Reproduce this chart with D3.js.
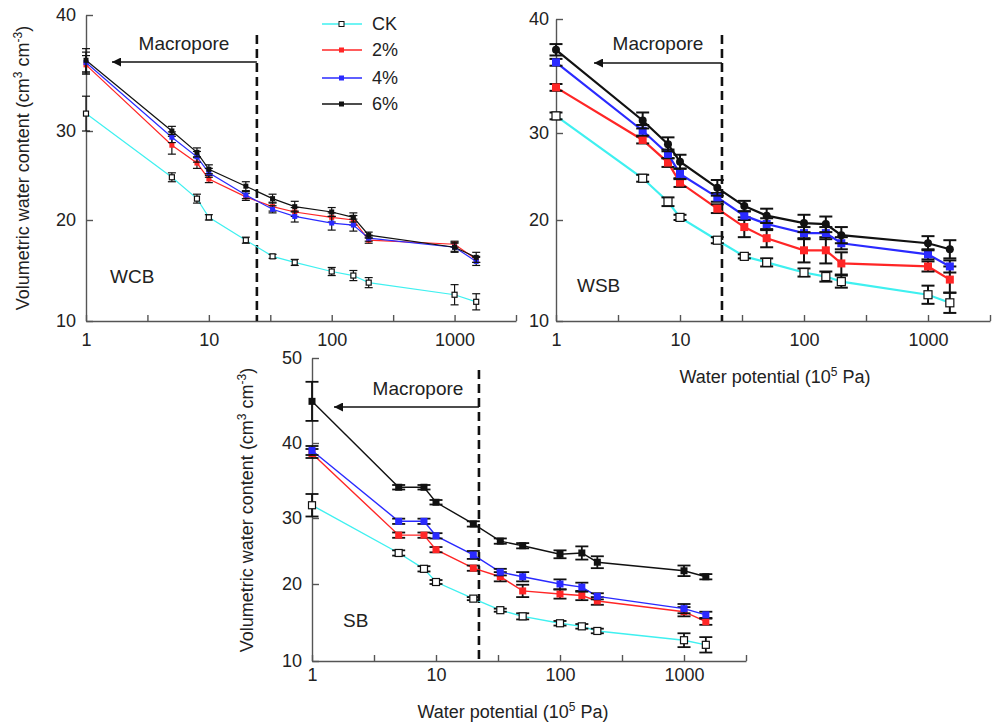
<!DOCTYPE html>
<html>
<head>
<meta charset="utf-8">
<script src="https://cdn.jsdelivr.net/npm/d3@7"></script>
<style>
  body { margin: 0; background: #fff; }
  svg { font-family: "Liberation Sans", Arial, sans-serif; }
  .axis path, .axis line { stroke: #555; stroke-width: 1.4; }
  .axis text { font-size: 18px; fill: #222; font-family: "Liberation Sans", Arial, sans-serif; }
</style>
</head>
<body>
<div class="main"></div>
<script>

// water potential (10^5 Pa) of each measurement
const potentials = [1, 5, 8, 10, 20, 33, 50, 100, 150, 200, 1000, 1500]
const treatments = ["CK", "2%", "4%", "6%"]
const colors = ["#3ff0f0", "#ff2626", "#2a2aff", "#111111"]

const xTickValues = [1, 3.1623, 10, 31.623, 100, 316.23, 1000, 3162.3]
const xTickLabels = [1, 10, 100, 1000]
const yTicksTop = [10, 20, 30, 40]
const yTicksBottom = [10, 20, 30, 40, 50]

// WCB
const wcbCK = [31.5, 24.8, 22.4, 20.3, 18.0, 16.4, 15.8, 14.9, 14.5, 13.8, 12.6, 11.9]
const wcb2 = [35.7, 28.4, 26.4, 24.6, 22.6, 21.5, 20.9, 20.3, 20.0, 18.0, 17.6, 16.1]
const wcb4 = [35.9, 29.3, 27.1, 25.3, 22.8, 21.2, 20.4, 19.7, 19.5, 18.2, 17.3, 15.9]
const wcb6 = [36.1, 30.0, 27.6, 25.7, 23.8, 22.4, 21.5, 20.9, 20.3, 18.5, 17.3, 16.3]
const wcbErrCK = [1.5, 0.5, 0.5, 0.3, 0.3, 0.2, 0.3, 0.4, 0.5, 0.5, 1.0, 0.8]
const wcbErr2 = [0.8, 1.0, 0.6, 0.4, 0.4, 0.5, 0.5, 0.5, 0.5, 0.3, 0.3, 0.3]
const wcbErr4 = [0.9, 0.6, 0.6, 0.5, 0.4, 0.4, 0.6, 0.7, 0.6, 0.3, 0.4, 0.4]
const wcbErr6 = [1.0, 0.4, 0.5, 0.5, 0.5, 0.5, 0.6, 0.5, 0.5, 0.3, 0.5, 0.5]
const wcbBoundary = 24.6

// WSB
const wsbCK = [31.5, 24.8, 22.1, 20.3, 18.0, 16.4, 15.8, 14.8, 14.4, 13.9, 12.6, 11.8]
const wsb2 = [34.0, 29.2, 26.6, 24.3, 21.3, 19.3, 18.2, 17.0, 17.0, 15.7, 15.4, 14.1]
const wsb4 = [36.2, 30.2, 27.6, 25.3, 22.6, 20.5, 19.6, 18.7, 18.7, 17.7, 16.6, 15.4]
const wsb6 = [37.3, 31.1, 28.7, 26.7, 23.7, 21.6, 20.5, 19.7, 19.6, 18.5, 17.7, 17.1]
const wsbErrCK = [0.3, 0.4, 0.5, 0.3, 0.3, 0.2, 0.4, 0.4, 0.5, 0.6, 0.9, 1.0]
const wsbErr2 = [0.3, 0.4, 0.5, 0.5, 0.5, 1.0, 0.9, 1.2, 1.3, 1.1, 0.5, 1.3]
const wsbErr4 = [0.3, 0.5, 0.5, 0.6, 0.5, 0.5, 0.6, 0.6, 0.6, 0.6, 0.5, 0.6]
const wsbErr6 = [0.5, 0.7, 0.8, 0.8, 0.9, 0.6, 0.8, 0.9, 0.8, 0.8, 0.7, 0.9]
const wsbBoundary = 21.8

// SB
const sbCK = [31.7, 24.7, 22.3, 20.3, 18.1, 16.6, 15.8, 14.9, 14.5, 13.9, 12.7, 12.1]
const sb2 = [38.6, 27.4, 27.4, 25.2, 22.4, 21.1, 19.1, 18.7, 18.5, 17.8, 16.4, 15.1]
const sb4 = [39.0, 29.5, 29.5, 27.3, 24.4, 21.8, 21.1, 20.0, 19.6, 18.4, 16.8, 16.0]
const sb6 = [44.9, 34.1, 34.1, 32.1, 29.1, 26.5, 25.8, 24.5, 24.7, 23.3, 22.0, 21.1]
const sbErrCK = [1.5, 0.4, 0.4, 0.3, 0.2, 0.2, 0.4, 0.3, 0.3, 0.3, 0.9, 1.0]
const sbErr2 = [0.6, 0.4, 0.4, 0.4, 0.4, 0.7, 0.8, 0.6, 0.6, 0.5, 0.6, 0.4]
const sbErr4 = [0.6, 0.4, 0.4, 0.4, 0.6, 0.5, 0.7, 0.7, 0.6, 0.4, 0.6, 0.4]
const sbErr6 = [2.3, 0.3, 0.3, 0.3, 0.4, 0.4, 0.4, 0.6, 1.0, 0.9, 0.8, 0.4]
const sbBoundary = 22.2


const panels = [
    {
        name: "WCB", values: [wcbCK, wcb2, wcb4, wcb6], errors: [wcbErrCK, wcbErr2, wcbErr4, wcbErr6],
        boundary: wcbBoundary, yTicks: yTicksTop,
        xRange: [86, 516], yRange: [321, 220, 131, 15],
        xPad: 12, yPad: 10, dashTop: 35, arrowY: 62, arrowTip: 110, textX: 184, textY: 50,
        labelX: 110, labelY: 283, marker: 5, lw: 1.2, cap: 8, ew: 1.2
    },
    {
        name: "WSB", values: [wsbCK, wsb2, wsb4, wsb6], errors: [wsbErrCK, wsbErr2, wsbErr4, wsbErr6],
        boundary: wsbBoundary, yTicks: yTicksTop,
        xRange: [556, 990], yRange: [321, 220, 133, 19],
        xPad: 12, yPad: 7, dashTop: 35, arrowY: 63, arrowTip: 592, textX: 658, textY: 50,
        labelX: 577, labelY: 292, marker: 8, lw: 2.2, cap: 13, ew: 2
    },
    {
        name: "SB", values: [sbCK, sb2, sb4, sb6], errors: [sbErrCK, sbErr2, sbErr4, sbErr6],
        boundary: sbBoundary, yTicks: yTicksBottom,
        xRange: [312, 746], yRange: [661, 584, 518, 443, 358],
        xPad: 7, yPad: 10, dashTop: 370, arrowY: 407, arrowTip: 332, textX: 418, textY: 395,
        labelX: 343, labelY: 627, marker: 7, lw: 1.4, cap: 13, ew: 1.8
    }
]


const drawPanel = (svg, p) => {

    ////////////
    // SCALES //
    ////////////

    const xScale = d3.scaleLog()
        .domain([1, 3162.3])
        .range(p.xRange)

    const yScale = d3.scaleLinear()
        .domain(p.yTicks)
        .range(p.yRange)

    const bottom = p.yRange[0]

    ///////////
    // AXLES //
    ///////////

    const xAxis = d3.axisBottom(xScale)
        .tickValues(xTickValues)
        .tickFormat(d => xTickLabels.includes(d) ? d : "")
        .tickSizeInner(-6)
        .tickSizeOuter(0)
        .tickPadding(p.xPad)

    const yAxis = d3.axisLeft(yScale)
        .tickValues(p.yTicks)
        .tickFormat(d3.format("d"))
        .tickSizeInner(-7)
        .tickSizeOuter(0)
        .tickPadding(p.yPad)

    svg.append("g")
        .attr("class", "axis")
        .attr("transform", `translate(0, ${bottom})`)
        .call(xAxis)

    svg.append("g")
        .attr("class", "axis")
        .attr("transform", `translate(${p.xRange[0]}, 0)`)
        .call(yAxis)

    ///////////////
    // MACROPORE //
    ///////////////

    const bx = xScale(p.boundary)

    svg.append("line")
        .attr("x1", bx).attr("x2", bx)
        .attr("y1", p.dashTop).attr("y2", bottom)
        .attr("stroke", "#111")
        .attr("stroke-width", 2.6)
        .attr("stroke-dasharray", "9,5")

    svg.append("line")
        .attr("x1", bx).attr("x2", p.arrowTip + 2)
        .attr("y1", p.arrowY).attr("y2", p.arrowY)
        .attr("stroke", "#111")
        .attr("stroke-width", 1.3)
        .attr("marker-end", "url(#arrow)")

    svg.append("text")
        .text("Macropore")
        .attr("x", p.textX)
        .attr("y", p.textY)
        .attr("text-anchor", "middle")
        .style("font-size", "19px")
        .style("fill", "#222")

    svg.append("text")
        .text(p.name)
        .attr("x", p.labelX)
        .attr("y", p.labelY)
        .style("font-size", "19px")
        .style("fill", "#222")

    ////////////
    // SERIES //
    ////////////

    const line = d3.line()
        .x(d => xScale(d[0]))
        .y(d => yScale(d[1]))

    p.values.forEach((vals, i) => {
        const pts = potentials.map((x, j) => [x, vals[j], p.errors[i][j]])
        const g = svg.append("g").attr("class", "series")

        g.append("path")
            .datum(pts)
            .attr("d", line)
            .attr("fill", "none")
            .attr("stroke", colors[i])
            .attr("stroke-width", p.lw)

        const bars = g.selectAll(".err")
            .data(pts)
            .enter()
            .append("g")
            .attr("class", "err")
            .attr("stroke", "#111")
            .attr("stroke-width", p.ew)

        bars.append("line")
            .attr("x1", d => xScale(d[0])).attr("x2", d => xScale(d[0]))
            .attr("y1", d => yScale(d[1] - d[2])).attr("y2", d => yScale(d[1] + d[2]))
        bars.append("line")
            .attr("x1", d => xScale(d[0]) - p.cap / 2).attr("x2", d => xScale(d[0]) + p.cap / 2)
            .attr("y1", d => yScale(d[1] - d[2])).attr("y2", d => yScale(d[1] - d[2]))
        bars.append("line")
            .attr("x1", d => xScale(d[0]) - p.cap / 2).attr("x2", d => xScale(d[0]) + p.cap / 2)
            .attr("y1", d => yScale(d[1] + d[2])).attr("y2", d => yScale(d[1] + d[2]))

        g.selectAll(".pt")
            .data(pts)
            .enter()
            .append("rect")
            .attr("class", "pt")
            .attr("x", d => xScale(d[0]) - p.marker / 2)
            .attr("y", d => yScale(d[1]) - p.marker / 2)
            .attr("width", p.marker)
            .attr("height", p.marker)
            .attr("rx", p.name == "WSB" && i == 3 ? p.marker / 2 : 0)
            .attr("fill", i == 0 ? "#fff" : colors[i])
            .attr("stroke", i == 0 ? "#111" : "none")
            .attr("stroke-width", 1.2)
    })
}


const chart = () => {

    ////////////
    // CANVAS //
    ////////////

    const w = 993
    const h = 725

    const svg = d3.select(".main")
        .append("svg")
        .attr("width", w)
        .attr("height", h)

    svg.append("defs")
        .append("marker")
        .attr("id", "arrow")
        .attr("viewBox", "0 0 10 10")
        .attr("refX", 10)
        .attr("refY", 5)
        .attr("markerUnits", "userSpaceOnUse")
        .attr("markerWidth", 13)
        .attr("markerHeight", 9)
        .attr("orient", "auto")
        .append("path")
        .attr("d", "M0,0 L10,5 L0,10 z")
        .attr("fill", "#111")

    panels.forEach(p => drawPanel(svg, p))

    ////////////
    // TITLES //
    ////////////

    const yTitle = (x, y) => {
        const t = svg.append("text")
            .attr("transform", `translate(${x},${y}) rotate(-90)`)
            .attr("text-anchor", "middle")
            .style("font-size", "18px")
            .style("fill", "#222")
        t.append("tspan").text("Volumetric water content (cm")
        t.append("tspan").text("3").attr("baseline-shift", "super").style("font-size", "12px")
        t.append("tspan").text(" cm")
        t.append("tspan").text("-3").attr("baseline-shift", "super").style("font-size", "12px")
        t.append("tspan").text(")")
    }

    const xTitle = (x, y) => {
        const t = svg.append("text")
            .attr("x", x)
            .attr("y", y)
            .attr("text-anchor", "middle")
            .style("font-size", "18px")
            .style("fill", "#222")
        t.append("tspan").text("Water potential (10")
        t.append("tspan").text("5").attr("baseline-shift", "super").style("font-size", "12px")
        t.append("tspan").text(" Pa)")
    }

    yTitle(29, 168)
    yTitle(253, 510)
    xTitle(775, 383)
    xTitle(513, 718)

    ////////////
    // LEGEND //
    ////////////

    const legend = svg.selectAll(".legend")
        .data(treatments)
        .enter()
        .append("g")
        .attr("class", "legend")
        .attr("transform", (d, i) => `translate(322, ${[24, 50, 78, 104][i]})`)

    legend.append("line")
        .attr("x1", 0).attr("x2", 40)
        .attr("stroke", (d, i) => colors[i])
        .attr("stroke-width", 1.3)

    legend.append("rect")
        .attr("x", 17).attr("y", -2.5)
        .attr("width", 5).attr("height", 5)
        .attr("fill", (d, i) => i == 0 ? "#fff" : colors[i])
        .attr("stroke", (d, i) => i == 0 ? "#111" : "none")

    legend.append("text")
        .text(d => d)
        .attr("x", 50)
        .attr("dy", "0.35em")
        .style("font-size", "18px")
        .style("fill", "#222")
}

chart()

</script>
</body>
</html>
